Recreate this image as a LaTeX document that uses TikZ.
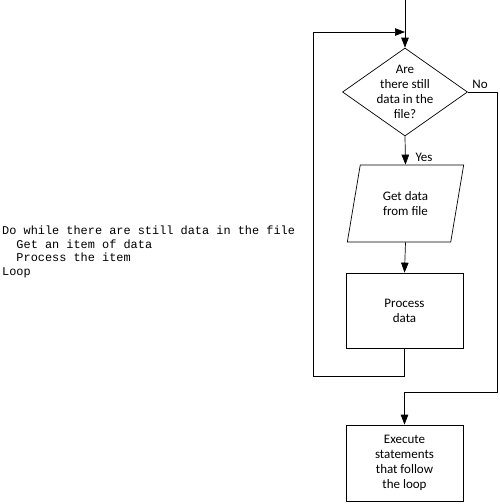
\documentclass[tikz,border=0pt]{standalone}
\usepackage{fontspec}
\setmainfont{Carlito}
\setmonofont{Liberation Mono}
\usetikzlibrary{shapes.geometric,arrows.meta}
\tikzset{
  flowtext/.style={align=center, inner sep=0pt, font=\fontsize{13}{15}\selectfont},
  flow/.style={draw, line width=0.7pt, flowtext},
  flowline/.style={line width=0.7pt},
  flowarrow/.style={flowline, -{Triangle[length=10pt,width=7.5pt]}},
  tag/.style={font=\fontsize{13}{15}\selectfont, inner sep=1pt}
}
\begin{document}
\begin{tikzpicture}[x=1pt,y=1pt]
  \useasboundingbox (0,0) rectangle (500,-504);
  % pseudocode
  \node[anchor=west, align=left, inner sep=0pt,
    font=\fontsize{11.9}{13.8}\selectfont\ttfamily] (code) at (2,-252)
    {Do while there are still data in the file\\
     \phantom{Do}Get an item of data\\
     \phantom{Do}Process the item\\
     Loop};
  % flowchart
  \node[flow, diamond, minimum width=125, minimum height=88,
    label={[flowtext]center:{Are\\there still\\data in the\\file?}}] (test) at (405,-92) {};
  \node[flow, trapezium, trapezium left angle=75, trapezium right angle=105,
    trapezium stretches=true, minimum width=117, minimum height=77] (get) at (405.5,-203.5)
    {Get data\\from file};
  \node[flow, rectangle, minimum width=117, minimum height=75] (proc) at (404.5,-310.5)
    {Process\\data};
  \node[flow, rectangle, minimum width=117, minimum height=76] (exec) at (404.5,-463)
    {Execute\\statements\\that follow\\the loop};
  \coordinate (in) at (405,0);
  \coordinate (join) at (405,-32);
  \coordinate (back) at (313,-376);
  \coordinate (noturn) at (497,-392);
  \draw[flowarrow] (in) -- (test.north);
  \draw[flowarrow] (test.south) -- (get.north);
  \draw[flowarrow] (get.south) -- (proc.north);
  \draw[flowarrow] (proc.south) |- (back) |- (join);
  \draw[flowarrow] (test.east) -| (noturn) -| (exec.north);
  \node[tag] (yes) at (424,-157) {Yes};
  \node[tag] (no) at (480,-84) {No};
\end{tikzpicture}
\end{document}
